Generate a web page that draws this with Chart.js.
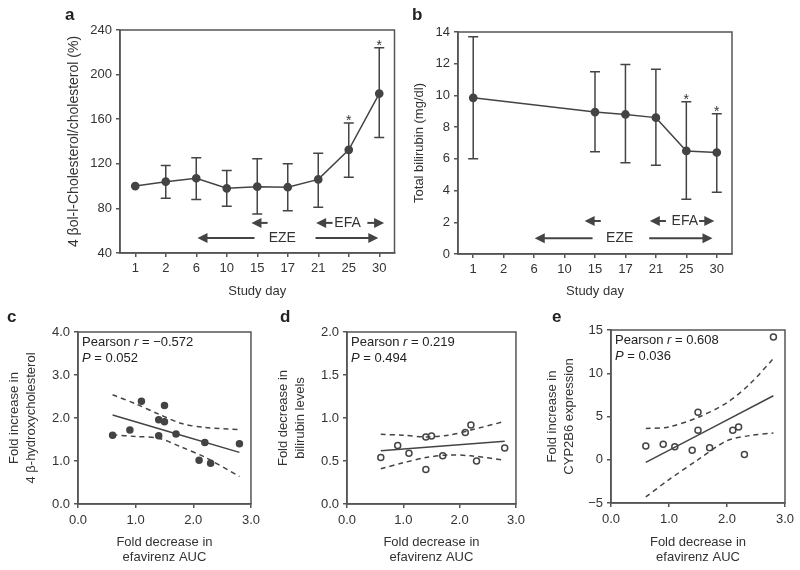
<!DOCTYPE html>
<html>
<head>
<meta charset="utf-8">
<script src="https://cdn.jsdelivr.net/npm/chart.js@4.4.1/dist/chart.umd.min.js"></script>
<style>
  body { margin: 0; background: #fff; width: 800px; height: 570px; position: relative; overflow: hidden;
         font-family: 'Liberation Sans', Arial, sans-serif; }
  canvas { position: absolute; }
  .lbl { position: absolute; font-weight: bold; font-size: 17px; color: #222; line-height: 20px; }
</style>
</head>
<body>
<canvas id="chartA" width="400" height="300" style="left:0;top:0"></canvas>
<canvas id="chartB" width="400" height="300" style="left:400px;top:0"></canvas>
<canvas id="chartC" width="265" height="270" style="left:0;top:300px"></canvas>
<canvas id="chartD" width="265" height="270" style="left:265px;top:300px"></canvas>
<canvas id="chartE" width="270" height="270" style="left:530px;top:300px"></canvas>
<div class="lbl" style="left:65px;top:5px">a</div>
<div class="lbl" style="left:412px;top:5px">b</div>
<div class="lbl" style="left:7px;top:307px">c</div>
<div class="lbl" style="left:280px;top:307px">d</div>
<div class="lbl" style="left:552px;top:307px">e</div>
<script>
// study days (panels a, b)
const days = ['1', '2', '6', '10', '15', '17', '21', '25', '30'];

// a: 4β-hydroxycholesterol / cholesterol (%)
const cholMean = [100, 104, 107, 98, 99.5, 99, 106, 132.5, 183];
const cholLow  = [null, 89, 88, 82, 75, 78, 81, 108, 143.5];
const cholHigh = [null, 118.5, 125.5, 114, 124.5, 120, 129.5, 156.5, 224];

// b: total bilirubin (mg/dl)
const biliMean = [9.85, null, null, null, 8.95, 8.8, 8.6, 6.5, 6.4];
const biliLow  = [6.0, null, null, null, 6.45, 5.75, 5.6, 3.45, 3.9];
const biliHigh = [13.7, null, null, null, 11.5, 11.95, 11.65, 9.6, 8.85];

// c: fold increase in 4β-hydroxycholesterol vs fold decrease in efavirenz AUC
const cAuc     = [0.6, 0.9, 1.1, 1.4, 1.5, 1.5, 1.4, 1.7, 2.1, 2.2, 2.3, 2.8];
const cHydroxy = [1.60, 1.72, 2.39, 1.96, 2.29, 1.91, 1.59, 1.63, 1.02, 1.43, 0.95, 1.40];
const cFitX = [0.6, 2.8];
const cFitY = [2.07, 1.20];
const cBandX = [0.6, 1.0, 1.4, 1.8, 2.2, 2.8];
const cUpper = [2.54, 2.33, 2.09, 1.87, 1.78, 1.73];
const cLower = [1.61, 1.57, 1.53, 1.32, 1.09, 0.64];

// d: fold decrease in bilirubin levels
const dAuc  = [0.6, 0.9, 1.1, 1.4, 1.5, 1.4, 1.7, 2.1, 2.2, 2.3, 2.8];
const dBili = [0.54, 0.68, 0.59, 0.78, 0.79, 0.40, 0.56, 0.83, 0.92, 0.50, 0.65];
const dFitX = [0.6, 2.8];
const dFitY = [0.62, 0.73];
const dBandX = [0.6, 1.0, 1.4, 1.8, 2.2, 2.8];
const dUpper = [0.81, 0.80, 0.78, 0.80, 0.86, 0.96];
const dLower = [0.41, 0.48, 0.54, 0.57, 0.56, 0.51];

// e: fold increase in CYP2B6 expression
const eAuc = [0.6, 0.9, 1.1, 1.4, 1.5, 1.5, 1.7, 2.1, 2.2, 2.3, 2.8];
const eCyp = [1.6, 1.8, 1.5, 1.1, 3.4, 5.5, 1.4, 3.4, 3.8, 0.6, 14.2];
const eFitX = [0.6, 2.8];
const eFitY = [-0.3, 7.4];
const eBandX = [0.6, 1.0, 1.5, 2.0, 2.4, 2.8];
const eUpper = [3.6, 3.8, 4.9, 6.6, 8.8, 11.7];
const eLower = [-4.3, -2.3, 0.0, 2.2, 2.8, 3.1];

const FONT = "'Liberation Sans', Arial, sans-serif";
const INK = '#444';
Chart.defaults.font.family = FONT;
Chart.defaults.font.size = 13;
Chart.defaults.color = '#333';

// frame round the plot area
const boxPlugin = {
    id: 'box',
    afterDraw(chart) {
        const { ctx, chartArea: a } = chart;
        ctx.save();
        ctx.strokeStyle = '#555';
        ctx.lineWidth = 1.5;
        ctx.strokeRect(a.left, a.top, a.width, a.height);
        ctx.restore();
    }
};

// error bars + asterisks
const errorBarPlugin = {
    id: 'errorBars',
    afterDatasetsDraw(chart, args, opts) {
        const { ctx, scales: { x, y } } = chart;
        ctx.save();
        ctx.strokeStyle = INK;
        ctx.lineWidth = 1.5;
        ctx.fillStyle = '#333';
        ctx.font = '14px ' + FONT;
        ctx.textAlign = 'center';
        opts.low.forEach((lo, i) => {
            const hi = opts.high[i];
            if (lo == null || hi == null) return;
            const px = x.getPixelForValue(i);
            const y1 = y.getPixelForValue(lo), y2 = y.getPixelForValue(hi);
            ctx.beginPath();
            ctx.moveTo(px, y1); ctx.lineTo(px, y2);
            ctx.moveTo(px - 5, y1); ctx.lineTo(px + 5, y1);
            ctx.moveTo(px - 5, y2); ctx.lineTo(px + 5, y2);
            ctx.stroke();
            if (opts.stars.includes(i)) ctx.fillText('*', px, y2 + 2);
        });
        ctx.restore();
    }
};

// EZE / EFA phase arrows
const arrowPlugin = {
    id: 'phaseArrows',
    afterDraw(chart, args, opts) {
        const { ctx, scales: { x, y } } = chart;
        ctx.save();
        ctx.strokeStyle = INK;
        ctx.fillStyle = INK;
        ctx.lineWidth = 2;
        opts.arrows.forEach(a => {
            const py = y.getPixelForValue(a.level);
            const x1 = x.getPixelForValue(a.from), x2 = x.getPixelForValue(a.to);
            const dir = Math.sign(x2 - x1);
            ctx.beginPath();
            ctx.moveTo(x1, py); ctx.lineTo(x2 - dir * 8, py);
            ctx.stroke();
            ctx.beginPath();
            ctx.moveTo(x2, py);
            ctx.lineTo(x2 - dir * 10, py - 5);
            ctx.lineTo(x2 - dir * 10, py + 5);
            ctx.closePath();
            ctx.fill();
        });
        ctx.fillStyle = '#333';
        ctx.font = '14px ' + FONT;
        ctx.textAlign = 'center';
        ctx.textBaseline = 'middle';
        opts.labels.forEach(l => ctx.fillText(l.text, x.getPixelForValue(l.at), y.getPixelForValue(l.level)));
        ctx.restore();
    }
};

// Pearson r / P text
const statPlugin = {
    id: 'stats',
    afterDraw(chart, args, opts) {
        const { ctx, chartArea: a } = chart;
        ctx.save();
        ctx.fillStyle = '#222';
        ctx.textBaseline = 'middle';
        const put = (parts, px, py) => {
            let cx = px;
            parts.forEach(([t, it]) => {
                ctx.font = (it ? 'italic ' : '') + '13px ' + FONT;
                ctx.fillText(t, cx, py);
                cx += ctx.measureText(t).width;
            });
        };
        put([['Pearson ', false], ['r', true], [' = ' + opts.r, false]], a.left + 4, a.top + 10);
        put([['P', true], [' = ' + opts.p, false]], a.left + 4, a.top + 26);
        ctx.restore();
    }
};

const gridStyle = { display: true, drawOnChartArea: false, drawTicks: true, tickLength: 4, color: '#555', lineWidth: 1.5, offset: false };
const borderStyle = { display: true, color: '#555', width: 1.5 };

function timeChart(id, mean, low, high, yOpts, layout, arrows) {
    return new Chart(document.getElementById(id), {
        type: 'line',
        data: {
            labels: days,
            datasets: [{
                data: mean,
                borderColor: INK,
                borderWidth: 1.5,
                pointRadius: 3.6,
                pointBackgroundColor: INK,
                pointBorderColor: INK,
                spanGaps: true,
                tension: 0
            }]
        },
        options: {
            responsive: false,
            animation: false,
            layout: { padding: layout.padding },
            plugins: {
                legend: { display: false },
                tooltip: { enabled: false },
                errorBars: { low: low, high: high, stars: [7, 8] },
                phaseArrows: arrows
            },
            scales: {
                x: {
                    type: 'category',
                    offset: true,
                    grid: gridStyle,
                    border: borderStyle,
                    ticks: { padding: 4 },
                    title: { display: true, text: 'Study day', padding: { top: 0, bottom: layout.xTitlePad } },
                    afterFit(s) { s.height = layout.xHeight; }
                },
                y: {
                    min: yOpts.min, max: yOpts.max,
                    grid: gridStyle,
                    border: borderStyle,
                    ticks: { stepSize: yOpts.step, padding: 4 },
                    title: { display: true, text: yOpts.title, font: { size: yOpts.titleSize }, padding: { top: layout.yTitlePad, bottom: 0 } },
                    afterFit(s) { s.width = layout.yWidth; }
                }
            }
        },
        plugins: [boxPlugin, errorBarPlugin, arrowPlugin]
    });
}

function corrChart(id, xs, ys, filled, fitX, fitY, bandX, upper, lower, yOpts, layout, stats) {
    const pts = (a, b) => a.map((v, i) => ({ x: v, y: b[i] }));
    const lineSet = (data, dash) => ({
        data: data, showLine: true, pointRadius: 0, borderColor: INK,
        borderWidth: 1.5, borderDash: dash, tension: 0.3, fill: false
    });
    return new Chart(document.getElementById(id), {
        type: 'scatter',
        data: {
            datasets: [
                lineSet(pts(fitX, fitY), []),
                lineSet(pts(bandX, upper), [5, 4]),
                lineSet(pts(bandX, lower), [5, 4]),
                {
                    data: pts(xs, ys),
                    pointRadius: 3,
                    pointBorderWidth: 1.5,
                    pointBorderColor: INK,
                    pointBackgroundColor: filled ? INK : '#fff'
                }
            ]
        },
        options: {
            responsive: false,
            animation: false,
            layout: { padding: layout.padding },
            plugins: { legend: { display: false }, tooltip: { enabled: false }, stats: stats },
            scales: {
                x: {
                    type: 'linear', min: 0, max: 3,
                    grid: gridStyle,
                    border: borderStyle,
                    ticks: { stepSize: 1, padding: 5, callback: v => v.toFixed(1) },
                    title: {
                        display: true, text: ['Fold decrease in', 'efavirenz AUC'],
                        font: { lineHeight: 1.15 }, padding: { top: 0, bottom: 5 }
                    },
                    afterFit(s) { s.height = layout.xHeight; }
                },
                y: {
                    min: yOpts.min, max: yOpts.max,
                    grid: gridStyle,
                    border: borderStyle,
                    ticks: { stepSize: yOpts.step, padding: 4, callback: yOpts.fmt },
                    title: {
                        display: true, text: yOpts.title,
                        font: { lineHeight: 1.3 }, padding: { top: layout.yTitlePad, bottom: 0 }
                    },
                    afterFit(s) { s.width = layout.yWidth; }
                }
            }
        },
        plugins: [boxPlugin, statPlugin]
    });
}

timeChart('chartA', cholMean, cholLow, cholHigh,
    { min: 40, max: 240, step: 40, title: '4 βol-l-Cholesterol/cholesterol (%)', titleSize: 14 },
    { padding: { top: 30, right: 5, left: 0, bottom: 0 }, xHeight: 47, yWidth: 120, yTitlePad: 66, xTitlePad: 1 },
    {
        arrows: [
            { level: 67, from: 4.34, to: 3.81 },
            { level: 67, from: 6.47, to: 5.93 },
            { level: 67, from: 7.61, to: 8.16 },
            { level: 53.5, from: 3.91, to: 2.04 },
            { level: 53.5, from: 5.91, to: 7.97 }
        ],
        labels: [{ text: 'EFA', at: 6.96, level: 67 }, { text: 'EZE', at: 4.82, level: 53.5 }]
    });

timeChart('chartB', biliMean, biliLow, biliHigh,
    { min: 0, max: 14, step: 2, title: 'Total bilirubin (mg/dl)', titleSize: 13 },
    { padding: { top: 32, right: 68, left: 0, bottom: 0 }, xHeight: 46, yWidth: 58, yTitlePad: 12, xTitlePad: 1 },
    {
        arrows: [
            { level: 2.08, from: 4.19, to: 3.66 },
            { level: 2.08, from: 6.33, to: 5.80 },
            { level: 2.08, from: 7.42, to: 7.92 },
            { level: 1.0, from: 3.92, to: 2.02 },
            { level: 1.0, from: 5.78, to: 7.86 }
        ],
        labels: [{ text: 'EFA', at: 6.95, level: 2.08 }, { text: 'EZE', at: 4.81, level: 1.0 }]
    });

corrChart('chartC', cAuc, cHydroxy, true, cFitX, cFitY, cBandX, cUpper, cLower,
    { min: 0, max: 4, step: 1, fmt: v => v.toFixed(1), title: ['Fold increase in', '4 β-hydroxycholesterol'] },
    { padding: { top: 32, right: 13, left: 0, bottom: 0 }, xHeight: 66, yWidth: 78, yTitlePad: 6 },
    { r: '−0.572', p: '0.052' });

corrChart('chartD', dAuc, dBili, false, dFitX, dFitY, dBandX, dUpper, dLower,
    { min: 0, max: 2, step: 0.5, fmt: v => v.toFixed(1), title: ['Fold decrease in', 'bilirubin levels'] },
    { padding: { top: 32, right: 9, left: 0, bottom: 0 }, xHeight: 66, yWidth: 82, yTitlePad: 10 },
    { r: '0.219', p: '0.494' });

corrChart('chartE', eAuc, eCyp, false, eFitX, eFitY, eBandX, eUpper, eLower,
    { min: -5, max: 15, step: 5, fmt: v => (v < 0 ? '−' + Math.abs(v) : String(v)), title: ['Fold increase in', 'CYP2B6 expression'] },
    { padding: { top: 30, right: 15, left: 0, bottom: 0 }, xHeight: 67, yWidth: 81, yTitlePad: 14 },
    { r: '0.608', p: '0.036' });
</script>
</body>
</html>
